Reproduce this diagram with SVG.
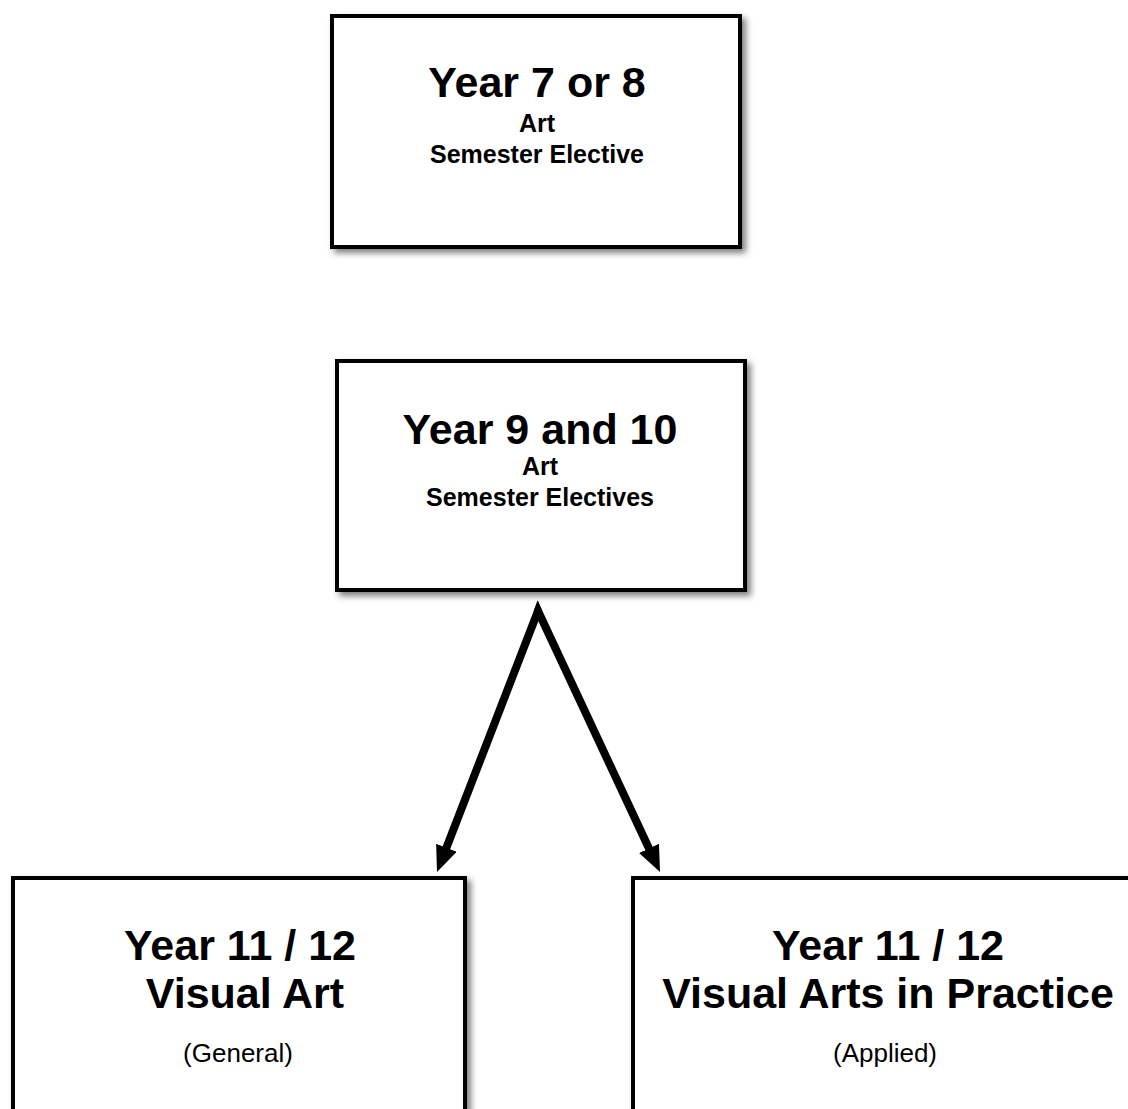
<svg xmlns="http://www.w3.org/2000/svg" width="1128" height="1109" viewBox="0 0 1128 1109">
  <style>
    .box { fill: #ffffff; stroke: #000000; stroke-width: 4; filter: url(#shadow); }
    .big { font-family: "Liberation Sans", Arial, sans-serif; font-weight: bold; font-size: 43px; fill: #000; text-anchor: middle; }
    .small { font-family: "Liberation Sans", Arial, sans-serif; font-weight: bold; font-size: 25px; fill: #000; text-anchor: middle; }
    .paren { font-family: "Liberation Sans", Arial, sans-serif; font-size: 26px; fill: #000; text-anchor: middle; }
    .conn { fill: none; stroke: #000; stroke-width: 8; stroke-linejoin: miter; marker-end: url(#arrow); }
  </style>
  <defs>
    <filter id="shadow" x="-5%" y="-5%" width="115%" height="115%">
      <feDropShadow dx="4" dy="4" stdDeviation="3" flood-color="#000" flood-opacity="0.5"/>
    </filter>
    <marker id="arrow" markerUnits="userSpaceOnUse" markerWidth="26" markerHeight="22" viewBox="0 0 26 22" refX="8" refY="11" orient="auto">
      <path d="M0,0 L26,11 L0,22 z" fill="#000"/>
    </marker>
  </defs>
  <rect width="1128" height="1109" fill="#ffffff"/>

  <g id="connectors">
    <path class="conn" d="M538.8,612.8 L538,611 L443.5,855.2"/>
    <path class="conn" d="M537.3,612.9 L538,611 L652.4,855.7"/>
  </g>

  <g id="node-year7-8">
    <rect class="box" x="332" y="16" width="408" height="231"/>
    <text class="big" x="537" y="97">Year 7 or 8</text>
    <text class="small" x="537" y="132">Art</text>
    <text class="small" x="537" y="163">Semester Elective</text>
  </g>

  <g id="node-year9-10">
    <rect class="box" x="337" y="361" width="408" height="229"/>
    <text class="big" x="540" y="444">Year 9 and 10</text>
    <text class="small" x="540" y="475">Art</text>
    <text class="small" x="540" y="506">Semester Electives</text>
  </g>

  <g id="node-visual-art">
    <rect class="box" x="13" y="878" width="452" height="300"/>
    <text class="big" x="240" y="960">Year 11 / 12</text>
    <text class="big" x="245" y="1008">Visual Art</text>
    <text class="paren" x="238" y="1062">(General)</text>
  </g>

  <g id="node-visual-arts-practice">
    <rect class="box" x="633" y="878" width="520" height="300"/>
    <text class="big" x="888" y="960">Year 11 / 12</text>
    <text class="big" x="888" y="1008">Visual Arts in Practice</text>
    <text class="paren" x="885" y="1062">(Applied)</text>
  </g>
</svg>
